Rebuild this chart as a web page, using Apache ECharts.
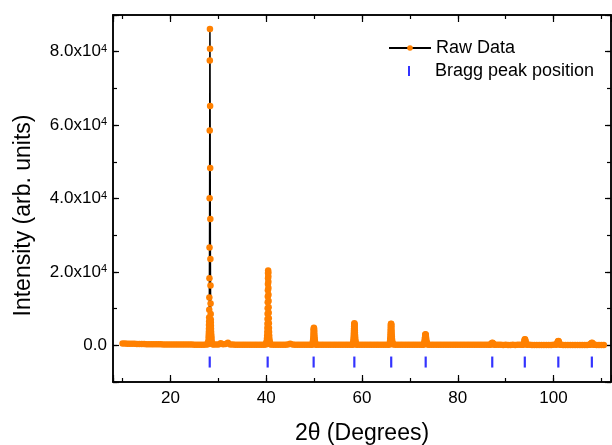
<!DOCTYPE html>
<html>
<head>
<meta charset="utf-8">
<script src="https://cdn.jsdelivr.net/npm/echarts@6/dist/echarts.min.js"></script>
<style>html,body{margin:0;padding:0;background:#fff}#c{width:612px;height:445px}</style>
</head>
<body>
<div id="c"></div>
<script>
// ---- data ----
const xTickLabels = [20, 40, 60, 80, 100];
const yTickValues = [0, 20000, 40000, 60000, 80000];
const yTickMantissas = ['0.0', '2.0', '4.0', '6.0', '8.0'];

// background (2θ, intensity)
const rawBackground = [
 [10,480],[10.5,460],[11,440],[11.5,420],[12,400],[12.5,390],[13,370],[13.5,360],[14,350],[14.5,330],
 [15,320],[15.5,310],[16,300],[16.5,290],[17,280],[17.5,270],[18,260],[18.5,250],[19,245],[19.5,240],
 [20,230],[20.5,225],[21,220],[21.5,215],[22,210],[22.5,205],[23,200],[23.5,195],[24,190],[24.5,185],
 [25,180],[25.5,180],[26,175],[26.5,175],[27,180],[27.5,200],
 [29,220],[29.5,200],[30,230],[30.5,550],[31,260],[31.5,330],[32,680],[32.5,250],[33,190],[33.5,170],
 [34,165],[34.5,160],[35,160],[35.5,155],[36,155],[36.5,150],[37,150],[37.5,155],[38,150],[38.5,150],
 [39,160],[39.5,180],
 [41,200],[41.5,170],[42,160],[42.5,155],[43,150],[43.5,150],[44,160],[44.5,250],[45,450],[45.5,200],
 [46,150],[46.5,145],[47,145],[47.5,140],[48,140],[48.5,140],[49,145],[49.5,160],
 [50.5,170],[51,150],[51.5,140],[52,140],[52.5,135],[53,140],[53.5,135],[54,135],[54.5,140],[55,135],
 [55.5,135],[56,140],[56.5,135],[57,135],[57.5,140],[58,160],
 [59,170],[59.5,145],[60,140],[60.5,135],[61,135],[61.5,140],[62,135],[62.5,130],[63,135],[63.5,135],
 [64,130],[64.5,135],[65,140],[65.5,150],
 [67,160],[67.5,140],[68,135],[68.5,130],[69,130],[69.5,135],[70,130],[70.5,130],[71,130],[71.5,135],
 [72,135],[72.5,150],
 [74,150],[74.5,135],[75,130],[75.5,130],[76,125],[76.5,130],[77,125],[77.5,125],[78,130],[78.5,125],
 [79,125],[79.5,125],[80,130],[80.5,125],[81,120],[81.5,125],[82,125],[82.5,120],[83,125],[83.5,120],
 [84,120],[84.5,125],[85,120],[85.5,120],[86,125],[86.5,130],
 [88,135],[88.5,120],[89,120],[89.5,115],[90,120],[90.5,115],[91,115],[91.5,120],[92,115],[92.5,120],
 [93,125],[93.5,135],
 [94.5,150],[95,125],[95.5,115],[96,115],[96.5,110],[97,115],[97.5,110],[98,110],[98.5,115],[99,110],
 [99.5,115],[100,120],
 [101.5,140],[102,115],[102.5,110],[103,110],[103.5,105],[104,110],[104.5,105],[105,105],[105.5,110],
 [106,105],[106.5,105],[107,110],[107.5,120],
 [108.5,130],[109,110],[109.5,105],[110,100],[110.5,95]
];
const peak28 = [[27.8,300],[27.86,500],[27.9,800],[27.94,1300],[27.98,2200],[28.0,2900],[28.02,3600],
 [28.04,4500],[28.05,5500],[28.07,6500],[28.08,7600],[28.1,9700],[28.12,13000],[28.14,18300],
 [28.16,26650],[28.18,40100],[28.2,58500],[28.22,77600],[28.24,86200],[28.26,80800],[28.28,65200],
 [28.3,48300],[28.32,34400],[28.34,23500],[28.36,16300],[28.38,11400],[28.4,8500],[28.42,7000],
 [28.43,6200],[28.45,5300],[28.46,4500],[28.48,3700],[28.5,3000],[28.53,2400],[28.55,1900],
 [28.6,1200],[28.66,700],[28.72,450],[28.8,300]];
const peak40 = [[39.9,250],[40,400],[40.06,600],[40.1,900],[40.14,1300],[40.17,1900],[40.2,2700],
 [40.22,3600],[40.24,4700],[40.255,5900],[40.27,7200],[40.285,8600],[40.3,10100],[40.315,11700],
 [40.33,13300],[40.345,15000],[40.36,16700],[40.375,18300],[40.39,19600],[40.4,20400],[40.41,19900],
 [40.425,18800],[40.44,17300],[40.455,15600],[40.47,13800],[40.485,12100],[40.5,10400],[40.515,8900],
 [40.53,7400],[40.55,6000],[40.57,4700],[40.59,3600],[40.62,2600],[40.65,1800],[40.69,1200],
 [40.74,800],[40.8,500],[40.88,300]];
const peak50 = [[49.6,200],[49.68,400],[49.74,800],[49.78,1300],[49.82,1900],[49.85,2600],[49.88,3300],
 [49.9,3900],[49.92,4400],[49.95,4750],[49.98,4600],[50.0,4200],[50.03,3600],[50.06,2900],[50.09,2200],
 [50.12,1600],[50.16,1100],[50.21,650],[50.27,350],[50.34,200]];
const peak58 = [[58.05,200],[58.12,400],[58.17,700],[58.21,1100],[58.24,1600],[58.27,2200],[58.29,2800],
 [58.31,3400],[58.33,4000],[58.35,4600],[58.37,5200],[58.39,5700],[58.41,6000],[58.43,5800],[58.45,5300],
 [58.47,4700],[58.49,4100],[58.51,3500],[58.53,2900],[58.56,2300],[58.59,1700],[58.62,1200],[58.66,800],
 [58.72,450],[58.8,250]];
const peak66 = [[65.7,200],[65.78,450],[65.84,800],[65.88,1300],[65.91,1900],[65.94,2600],[65.96,3200],
 [65.98,3900],[66.0,4500],[66.02,5100],[66.04,5500],[66.06,5800],[66.08,5870],[66.1,5600],[66.12,5200],
 [66.14,4700],[66.16,4100],[66.18,3500],[66.2,2900],[66.23,2300],[66.26,1700],[66.3,1200],[66.35,750],
 [66.42,400],[66.52,220]];
const peak73 = [[72.85,180],[72.95,350],[73.02,650],[73.07,1000],[73.11,1400],[73.14,1800],[73.17,2200],
 [73.2,2600],[73.23,2850],[73.26,3000],[73.29,2900],[73.32,2600],[73.35,2250],[73.38,1850],[73.42,1400],
 [73.47,950],[73.53,600],[73.6,350],[73.72,200]];
const peak87 = [[86.8,160],[86.95,260],[87.05,420],[87.15,640],[87.25,680],[87.35,520],[87.45,330],[87.6,180]];
const peak94 = [[93.6,170],[93.75,350],[93.85,700],[93.92,1150],[93.98,1550],[94.04,1640],[94.1,1400],
 [94.17,950],[94.25,500],[94.4,200]];
const peak101 = [[100.55,160],[100.7,320],[100.8,600],[100.88,900],[100.95,1120],[101.02,1150],[101.1,950],
 [101.18,620],[101.27,350],[101.4,170]];
const peak108 = [[107.6,150],[107.75,260],[107.85,450],[107.95,640],[108.05,680],[108.15,520],[108.27,320],[108.45,160]];

const braggPositions = [28.2, 40.3, 49.9, 58.4, 66.1, 73.3, 87.2, 94.0, 101.0, 108.0];
const braggLevel = -4560;

// ---- build ----
const rawData = [].concat(rawBackground, peak28, peak40, peak50, peak58, peak66, peak73,
  peak87, peak94, peak101, peak108).sort((a, b) => a[0] - b[0]);
const braggData = braggPositions.map(p => [p, braggLevel]);

const FONT = 'Liberation Sans, Arial, sans-serif';
const X_MIN = 8, X_MAX = 112, Y_MIN = -10000, Y_MAX = 90000;

function xAxisCfg(pos, major, showLabel) {
  return {
    type: 'value', position: pos, min: X_MIN, max: X_MAX,
    splitNumber: major ? 5 : 10,
    axisLine: {show: true, onZero: false, lineStyle: {color: '#000', width: 1.5}},
    axisTick: {show: true, inside: true, length: major ? 7 : 4, lineStyle: {color: '#000', width: 1.2}},
    axisLabel: {show: showLabel, fontFamily: FONT, fontSize: 17, color: '#000', margin: 8,
      formatter: v => xTickLabels.indexOf(v) >= 0 ? String(v) : ''},
    splitLine: {show: false},
    name: showLabel ? '2θ (Degrees)' : '', nameLocation: 'middle', nameGap: 40,
    nameTextStyle: {fontFamily: FONT, fontSize: 23, color: '#000'}
  };
}
function yAxisCfg(pos, major, showLabel) {
  return {
    type: 'value', position: pos, min: Y_MIN, max: Y_MAX,
    splitNumber: major ? 5 : 10,
    axisLine: {show: true, onZero: false, lineStyle: {color: '#000', width: 1.5}},
    axisTick: {show: true, inside: true, length: major ? 6 : 4, lineStyle: {color: '#000', width: 1.2}},
    axisLabel: {show: showLabel, color: '#000', margin: 6,
      formatter: v => {
        const i = yTickValues.indexOf(v);
        if (i < 0) return '';
        if (v === 0) return '{m|' + yTickMantissas[i] + '}';
        return '{m|' + yTickMantissas[i] + 'x10}{s|4}';
      },
      rich: {
        m: {fontFamily: FONT, fontSize: 17, color: '#000'},
        s: {fontFamily: FONT, fontSize: 11, color: '#000', verticalAlign: 'top'}
      }},
    splitLine: {show: false},
    name: showLabel ? 'Intensity (arb. units)' : '', nameLocation: 'middle', nameGap: 78,
    nameTextStyle: {fontFamily: FONT, fontSize: 23, color: '#000', padding: [0, 34, 0, 0]}
  };
}

const chart = echarts.init(document.getElementById('c'), null, {renderer: 'canvas'});
chart.setOption({
  animation: false,
  backgroundColor: '#fff',
  grid: {left: 113, right: 1, top: 15, bottom: 63, containLabel: false, outerBoundsMode: 'none'},
  xAxis: [xAxisCfg('bottom', true, true), xAxisCfg('bottom', false, false),
          xAxisCfg('top', true, false), xAxisCfg('top', false, false)],
  yAxis: [yAxisCfg('left', true, true), yAxisCfg('left', false, false),
          yAxisCfg('right', true, false), yAxisCfg('right', false, false)],
  legend: [
    {data: ['Raw Data'], orient: 'vertical', left: 388, top: 39, padding: 0,
     itemWidth: 42, itemHeight: 7,
     textStyle: {fontFamily: FONT, fontSize: 18, color: '#000'}},
    {data: [{name: 'Bragg peak position',
             icon: 'path://M0 0L0 0M42 10L42 10M20 0H22V10H20Z'}], orient: 'vertical',
     left: 388, top: 62, padding: 0, itemWidth: 42, itemHeight: 10,
     textStyle: {fontFamily: FONT, fontSize: 18, color: '#000'}}
  ],
  series: [
    {name: 'Raw Data', type: 'line', xAxisIndex: 0, yAxisIndex: 0, data: rawData,
     symbol: 'circle', symbolSize: 6.5, showSymbol: true, showAllSymbol: true,
     lineStyle: {color: '#000', width: 1.5}, itemStyle: {color: '#FF8000'},
     emphasis: {disabled: true}, z: 3},
    {name: 'Bragg peak position', type: 'scatter', xAxisIndex: 0, yAxisIndex: 0, data: braggData,
     symbol: 'rect', symbolSize: [2.2, 11], itemStyle: {color: '#0000FF'}, z: 2}
  ]
});
</script>
</body>
</html>
